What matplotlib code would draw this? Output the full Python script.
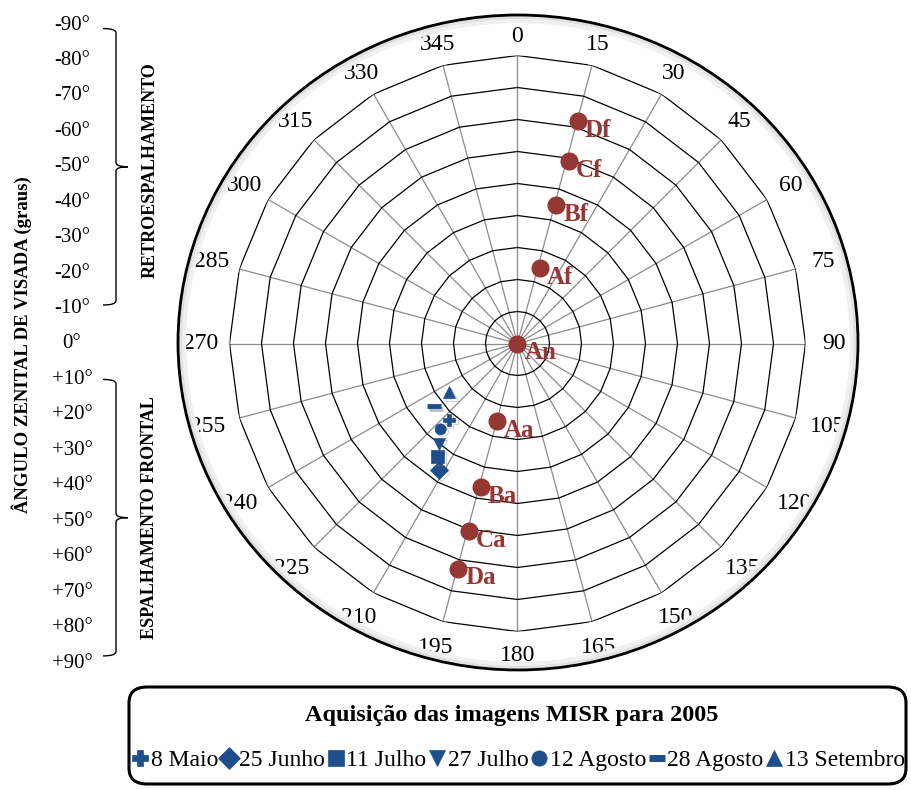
import numpy as np
import matplotlib
matplotlib.use("Agg")
import matplotlib.pyplot as plt
from matplotlib.lines import Line2D
from matplotlib.patches import Ellipse, FancyBboxPatch, PathPatch
from matplotlib.path import Path
import matplotlib.patheffects as pe

plt.rcParams['font.family'] = ['Liberation Serif', 'DejaVu Serif']

# MISR cameras: azimuth (deg, clockwise from N) and view zenith (deg)
cam_names = ['Df', 'Cf', 'Bf', 'Af', 'An', 'Aa', 'Ba', 'Ca', 'Da']
cam_az = [15.2, 15.7, 15.7, 16.6, 0.0, 195.0, 194.3, 194.6, 194.7]
cam_zen = [72.0, 59.1, 44.8, 24.6, 0.0, 25.1, 46.4, 60.7, 72.8]

# acquisition dates (sun position)
dates = ['8 Maio', '25 Junho', '11 Julho', '27 Julho', '12 Agosto', '28 Agosto', '13 Setembro']
sun_az = [221.8, 211.8, 215.3, 218.0, 221.8, 232.9, 234.5]
sun_zen = [32.0, 46.4, 43.2, 39.8, 36.0, 32.6, 26.2]
date_markers = ['P', 'D', 's', 'v', 'o', '_', '^']
date_sizes = [9, 9, 9, 9, 8, 10, 9]

az_ticks = list(range(0, 360, 15))
rings = list(range(10, 100, 10))
zen_labels = ['-90°', '-80°', '-70°', '-60°', '-50°', '-40°', '-30°', '-20°', '-10°', '0°',
              '+10°', '+20°', '+30°', '+40°', '+50°', '+60°', '+70°', '+80°', '+90°']
zen_vals = list(range(-90, 91, 10))

red = '#953735'
blue = '#1f4e8c'

W, H = 911, 790
fig = plt.figure(figsize=(W / 100, H / 100), dpi=100)

# outer rounded frame of the plot area (with a soft inner shadow)
for lw, col, off in [(6, '#f0f0f0', 4), (3, '#e0e0e0', 2), (2, 'black', 0)]:
    fig.patches.append(Ellipse((518 / W, 1 - 342.5 / H), (680 - 2 * off) / W, (655 - 2 * off) / H,
                               transform=fig.transFigure, fill=False, lw=lw, ec=col))

ax = fig.add_axes([229.5 / W, (H - 343.5 - 288) / H, 576 / W, 576 / H], projection='polar')
ax.set_theta_zero_location('N')
ax.set_theta_direction(-1)
ax.set_ylim(0, 90)
ax.grid(False)
ax.set_xticks([])
ax.set_yticks([])
ax.spines['polar'].set_visible(False)
ax.patch.set_alpha(0)

th_poly = np.deg2rad(az_ticks + [360])
for a in az_ticks:
    ax.plot([np.deg2rad(a)] * 2, [0, 90], color='#8c8c8c', lw=0.9, zorder=1)
for r in rings:
    ax.plot(th_poly, [r] * len(th_poly), color='black', lw=0.9, zorder=2)

for a in az_ticks:
    rr = 96.0 + 3.0 * abs(np.sin(np.deg2rad(a))) + (1.5 if np.cos(np.deg2rad(a)) < -0.1 else 0)
    ax.text(np.deg2rad(a), rr, str(a), ha='center', va='center', fontsize=17, clip_on=False)

ax.plot(np.deg2rad(cam_az), cam_zen, 'o', color=red, ms=12, ls='none', zorder=5)
for n, a, z in zip(cam_names, cam_az, cam_zen):
    ax.annotate(n, (np.deg2rad(a), z), xytext=(5, -6.5), textcoords='offset points',
                ha='left', va='center', fontsize=18, fontweight='bold', color=red, zorder=6)

shadow = [pe.SimpleLineShadow(offset=(1.5, -1.5), shadow_color='gray', alpha=0.5), pe.Normal()]
handles = []
for d, a, z, m, s in zip(dates, sun_az, sun_zen, date_markers, date_sizes):
    mew = 3.5 if m == '_' else 0.5
    ax.plot([np.deg2rad(a)], [z], marker=m, color=blue, ms=s, mew=mew, ls='none', zorder=5,
            path_effects=shadow)
    handles.append(Line2D([], [], marker=m, color=blue, ms=11 if m != '_' else 12,
                          mew=5 if m == '_' else 0.5, ls='none', label=d))

# left scale of view zenith angles
axL = fig.add_axes([0, (H - 663) / H, 200 / W, 638 / H])
axL.set_xlim(0, 200)
axL.set_ylim(90, -90)
axL.axis('off')
for v, t in zip(zen_vals, zen_labels):
    axL.text(72, v, t, ha='center', va='center', fontsize=15)


def brace(y0, y1, x=116, x_end=103, x_tip=128, k=1.2):
    ym = (y0 + y1) / 2
    verts = [(x_end, y0), (x, y0), (x, y0 + k),
             (x, ym - k), (x, ym), (x_tip, ym),
             (x, ym), (x, ym + k),
             (x, y1 - k), (x, y1), (x_end, y1)]
    codes = [Path.MOVETO, Path.CURVE3, Path.CURVE3,
             Path.LINETO, Path.CURVE3, Path.CURVE3,
             Path.CURVE3, Path.CURVE3,
             Path.LINETO, Path.CURVE3, Path.CURVE3]
    axL.add_patch(PathPatch(Path(verts, codes), fill=False, lw=1.0, ec='black'))


brace(-89, -11)
brace(10, 88)

fig.text(22 / W, 1 - 345 / H, 'ÂNGULO ZENITAL DE VISADA (graus)', rotation=90, ha='center',
         va='center', fontsize=13.5, fontweight='bold')
axL.text(150, -49, 'RETROESPALHAMENTO', rotation=90, ha='center', va='center',
         fontsize=13, fontweight='bold')
axL.text(150, 49, 'ESPALHAMENTO FRONTAL', rotation=90, ha='center', va='center',
         fontsize=13, fontweight='bold')

# legend box
fig.patches.append(FancyBboxPatch((129 / W, 6 / H), 777 / W, 97 / H,
                                  boxstyle='round,pad=0,rounding_size=0.02',
                                  transform=fig.transFigure, fill=True, fc='white',
                                  ec='black', lw=2.2, zorder=3))
fig.text(512 / W, 1 - 715 / H, 'Aquisição das imagens MISR para 2005', ha='center', va='center',
         fontsize=17.5, fontweight='bold', zorder=4)
leg = fig.legend(handles=handles, loc='center', bbox_to_anchor=(519 / W, 1 - 760 / H),
                 ncol=7, frameon=False, fontsize=17, handlelength=0.6, handletextpad=0.15,
                 columnspacing=0.15, borderpad=0)
leg.set_zorder(5)

fig.savefig('out.png', dpi=100)
